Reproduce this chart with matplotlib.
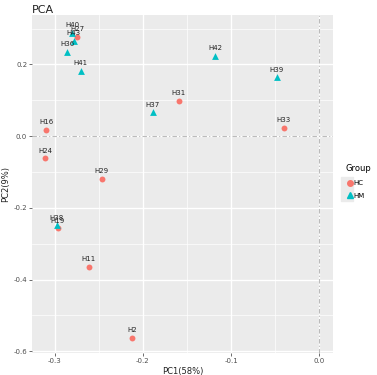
import matplotlib
matplotlib.use("Agg")
import matplotlib.pyplot as plt
from matplotlib.lines import Line2D
from matplotlib.legend_handler import HandlerTuple

# PCA scores
samples_hc = ["H27", "H16", "H31", "H33", "H24", "H29", "H19", "H11", "H2"]
pc1_hc = [-0.2745, -0.3094, -0.1593, -0.0403, -0.3105, -0.2463, -0.2961, -0.2611, -0.2117]
pc2_hc = [0.277, 0.0185, 0.0977, 0.0221, -0.0623, -0.1194, -0.2574, -0.3658, -0.5628]

samples_hm = ["H40", "H43", "H36", "H41", "H37", "H42", "H39", "H38"]
pc1_hm = [-0.2797, -0.2782, -0.2854, -0.2702, -0.1885, -0.1182, -0.0482, -0.2973]
pc2_hm = [0.287, 0.266, 0.2356, 0.181, 0.0662, 0.2246, 0.1639, -0.249]

xticks = [-0.3, -0.2, -0.1, 0.0]
yticks = [0.2, 0.0, -0.2, -0.4, -0.6]

col_hc = "#F8766D"
col_hm = "#00BFC4"

fig = plt.figure(figsize=(3.77, 3.75), dpi=100)
ax = fig.add_axes([32/377, 1-353/375, (333-32)/377, (353-15)/375])
ax.set_facecolor("#EBEBEB")
for s in ax.spines.values():
    s.set_visible(False)

ax.set_xlim(-0.3255, 0.0155)
ax.set_ylim(-0.605, 0.338)

# grid like ggplot
for v in [-0.25, -0.15, -0.05]:
    ax.axvline(v, color="white", lw=0.5, zorder=0)
for v in [0.3, 0.1, -0.1, -0.3, -0.5]:
    ax.axhline(v, color="white", lw=0.5, zorder=0)
for v in xticks:
    ax.axvline(v, color="white", lw=1.0, zorder=0)
for v in yticks:
    ax.axhline(v, color="white", lw=1.0, zorder=0)

ax.axhline(0, color="#BBBBBB", lw=0.8, ls=(0, (4, 2, 1, 2)), zorder=1)
ax.axvline(0, color="#BBBBBB", lw=0.8, ls=(0, (4, 2, 1, 2)), zorder=1)

ax.scatter(pc1_hc, pc2_hc, s=18, color=col_hc, marker="o", lw=0, zorder=3)
ax.scatter(pc1_hm, pc2_hm, s=24, color=col_hm, marker="^", lw=0, zorder=3)

for name, x, y in zip(samples_hc + samples_hm, pc1_hc + pc1_hm, pc2_hc + pc2_hm):
    ax.annotate(name, (x, y), xytext=(0, 3.5), textcoords="offset points",
                ha="center", va="bottom", fontsize=5, color="#222222", zorder=4)

ax.set_xticks(xticks)
ax.set_xticklabels(["-0.3", "-0.2", "-0.1", "0.0"])
ax.set_yticks(yticks)
ax.set_yticklabels(["0.2", "0.0", "-0.2", "-0.4", "-0.6"])
ax.tick_params(labelsize=5, colors="#4D4D4D", length=2, width=0.5, pad=1.5)
ax.tick_params(axis="both", which="both", color="#333333")

ax.set_xlabel("PC1(58%)", fontsize=6, color="#222222", labelpad=2)
ax.set_ylabel("PC2(9%)", fontsize=6, color="#222222", labelpad=2)
ax.set_title("PCA", fontsize=8, loc="left", color="#222222", pad=1)

# legend keys with grey background squares like ggplot
key_bg = dict(marker="s", ls="", color="#EBEBEB", markersize=9)
handles = [
    (Line2D([], [], **key_bg), Line2D([], [], marker="o", ls="", color=col_hc, markersize=4)),
    (Line2D([], [], **key_bg), Line2D([], [], marker="^", ls="", color=col_hm, markersize=4.5)),
]
leg = fig.legend(handles=handles, labels=["HC", "HM"], title="Group", loc="upper left",
                 bbox_to_anchor=(345/377, 1-164/375), frameon=False,
                 fontsize=5, title_fontsize=6, handlelength=0.9,
                 handletextpad=0.3, labelspacing=1.0, borderaxespad=0,
                 borderpad=0, handler_map={tuple: HandlerTuple(ndivide=None, pad=0)})
leg._legend_box.align = "left"

fig.savefig("out.png", dpi=100)
